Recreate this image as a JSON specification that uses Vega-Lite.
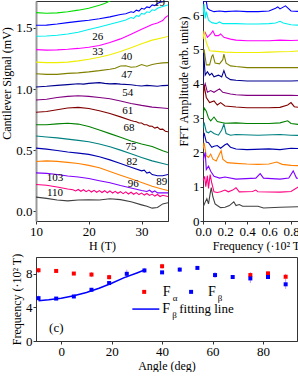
{
 "$schema": "https://vega.github.io/schema/vega-lite/v6.json",
 "padding": {"left": 0, "top": -4, "right": 0, "bottom": 0},
 "background": "white",
 "config": {
  "font": "Liberation Serif",
  "view": {"stroke": "#333", "strokeWidth": 1},
  "axis": {"labelFont": "Liberation Serif", "titleFont": "Liberation Serif", "labelFontSize": 13, "titleFontSize": 12, "titleFontWeight": "normal", "labelColor": "#000", "titleColor": "#000", "domainColor": "#333", "tickColor": "#333", "grid": false, "tickSize": 3, "labelPadding": 1, "titlePadding": 2, "labelOverlap": false, "labelFlush": false}
 },
 "datasets": {
  "a": [
   {"s":"5","h":10,"v":1.625},{"s":"5","h":12,"v":1.62},{"s":"5","h":14,"v":1.623},{"s":"5","h":16,"v":1.632},{"s":"5","h":18,"v":1.645},{"s":"5","h":20,"v":1.66},{"s":"5","h":22,"v":1.685},{"s":"5","h":23,"v":1.7},{"s":"5","h":24,"v":1.72},{"s":"5","h":25,"v":1.74},
   {"s":"12","h":10,"v":1.522},{"s":"12","h":12,"v":1.523},{"s":"12","h":14,"v":1.532},{"s":"12","h":16,"v":1.543},{"s":"12","h":18,"v":1.553},{"s":"12","h":20,"v":1.563},{"s":"12","h":22,"v":1.575},{"s":"12","h":24,"v":1.59},{"s":"12","h":26,"v":1.61},{"s":"12","h":27,"v":1.615},{"s":"12","h":28,"v":1.632},{"s":"12","h":28.5,"v":1.626},{"s":"12","h":29,"v":1.645},{"s":"12","h":29.5,"v":1.638},{"s":"12","h":30,"v":1.66},{"s":"12","h":30.5,"v":1.653},{"s":"12","h":31,"v":1.672},{"s":"12","h":31.5,"v":1.666},{"s":"12","h":32,"v":1.688},{"s":"12","h":32.5,"v":1.682},{"s":"12","h":33,"v":1.7},{"s":"12","h":34,"v":1.72},{"s":"12","h":35,"v":1.74},
   {"s":"19","h":10,"v":1.432},{"s":"19","h":12,"v":1.434},{"s":"19","h":14,"v":1.44},{"s":"19","h":16,"v":1.45},{"s":"19","h":18,"v":1.465},{"s":"19","h":20,"v":1.487},{"s":"19","h":22,"v":1.508},{"s":"19","h":24,"v":1.53},{"s":"19","h":26,"v":1.553},{"s":"19","h":27,"v":1.565},{"s":"19","h":28,"v":1.585},{"s":"19","h":28.5,"v":1.578},{"s":"19","h":29,"v":1.6},{"s":"19","h":29.5,"v":1.595},{"s":"19","h":30,"v":1.618},{"s":"19","h":30.5,"v":1.612},{"s":"19","h":31,"v":1.632},{"s":"19","h":31.5,"v":1.626},{"s":"19","h":32,"v":1.648},{"s":"19","h":32.5,"v":1.643},{"s":"19","h":33,"v":1.66},{"s":"19","h":34,"v":1.675},{"s":"19","h":35,"v":1.688},
   {"s":"26","h":10,"v":1.322},{"s":"26","h":12,"v":1.318},{"s":"26","h":14,"v":1.32},{"s":"26","h":16,"v":1.325},{"s":"26","h":18,"v":1.332},{"s":"26","h":20,"v":1.342},{"s":"26","h":22,"v":1.356},{"s":"26","h":24,"v":1.38},{"s":"26","h":26,"v":1.41},{"s":"26","h":28,"v":1.447},{"s":"26","h":30,"v":1.488},{"s":"26","h":32,"v":1.528},{"s":"26","h":33,"v":1.54},{"s":"26","h":34,"v":1.56},{"s":"26","h":34.5,"v":1.585},{"s":"26","h":35,"v":1.6},
   {"s":"33","h":10,"v":1.22},{"s":"33","h":12,"v":1.216},{"s":"33","h":14,"v":1.216},{"s":"33","h":16,"v":1.22},{"s":"33","h":18,"v":1.23},{"s":"33","h":20,"v":1.243},{"s":"33","h":22,"v":1.26},{"s":"33","h":24,"v":1.28},{"s":"33","h":26,"v":1.307},{"s":"33","h":28,"v":1.338},{"s":"33","h":30,"v":1.37},{"s":"33","h":32,"v":1.4},{"s":"33","h":34,"v":1.42},{"s":"33","h":35,"v":1.43},
   {"s":"40","h":10,"v":1.125},{"s":"40","h":12,"v":1.12},{"s":"40","h":14,"v":1.12},{"s":"40","h":16,"v":1.128},{"s":"40","h":18,"v":1.132},{"s":"40","h":20,"v":1.14},{"s":"40","h":22,"v":1.15},{"s":"40","h":24,"v":1.162},{"s":"40","h":25,"v":1.17},{"s":"40","h":26,"v":1.188},{"s":"40","h":27,"v":1.19},{"s":"40","h":28,"v":1.178},{"s":"40","h":29,"v":1.182},{"s":"40","h":30,"v":1.2},{"s":"40","h":31,"v":1.186},{"s":"40","h":32,"v":1.2},{"s":"40","h":33,"v":1.208},{"s":"40","h":34,"v":1.214},{"s":"40","h":35,"v":1.216},
   {"s":"47","h":10,"v":1.016},{"s":"47","h":12,"v":1.022},{"s":"47","h":14,"v":1.03},{"s":"47","h":16,"v":1.036},{"s":"47","h":18,"v":1.043},{"s":"47","h":19,"v":1.04},{"s":"47","h":20,"v":1.046},{"s":"47","h":22,"v":1.052},{"s":"47","h":23,"v":1.046},{"s":"47","h":24,"v":1.042},{"s":"47","h":25,"v":1.044},{"s":"47","h":26,"v":1.04},{"s":"47","h":28,"v":1.035},{"s":"47","h":29,"v":1.028},{"s":"47","h":30,"v":1.025},{"s":"47","h":31,"v":1.03},{"s":"47","h":33,"v":1.022},{"s":"47","h":34,"v":1.028},{"s":"47","h":35,"v":1.03},
   {"s":"54","h":10,"v":0.91},{"s":"54","h":12,"v":0.916},{"s":"54","h":14,"v":0.93},{"s":"54","h":16,"v":0.94},{"s":"54","h":18,"v":0.945},{"s":"54","h":20,"v":0.94},{"s":"54","h":22,"v":0.93},{"s":"54","h":24,"v":0.92},{"s":"54","h":26,"v":0.902},{"s":"54","h":28,"v":0.882},{"s":"54","h":30,"v":0.866},{"s":"54","h":32,"v":0.852},{"s":"54","h":34,"v":0.845},{"s":"54","h":35,"v":0.84},
   {"s":"61","h":10,"v":0.81},{"s":"61","h":12,"v":0.816},{"s":"61","h":14,"v":0.83},{"s":"61","h":16,"v":0.845},{"s":"61","h":18,"v":0.85},{"s":"61","h":20,"v":0.84},{"s":"61","h":22,"v":0.822},{"s":"61","h":24,"v":0.8},{"s":"61","h":26,"v":0.772},{"s":"61","h":28,"v":0.742},{"s":"61","h":28.5,"v":0.736},{"s":"61","h":29,"v":0.732},{"s":"61","h":29.5,"v":0.722},{"s":"61","h":30,"v":0.722},{"s":"61","h":30.5,"v":0.708},{"s":"61","h":31,"v":0.708},{"s":"61","h":31.5,"v":0.696},{"s":"61","h":32,"v":0.695},{"s":"61","h":32.5,"v":0.68},{"s":"61","h":33,"v":0.688},{"s":"61","h":33.5,"v":0.67},{"s":"61","h":34,"v":0.672},{"s":"61","h":34.5,"v":0.655},{"s":"61","h":35,"v":0.65},
   {"s":"68","h":10,"v":0.707},{"s":"68","h":12,"v":0.708},{"s":"68","h":14,"v":0.715},{"s":"68","h":16,"v":0.72},{"s":"68","h":18,"v":0.713},{"s":"68","h":20,"v":0.693},{"s":"68","h":22,"v":0.665},{"s":"68","h":24,"v":0.635},{"s":"68","h":26,"v":0.605},{"s":"68","h":28,"v":0.575},{"s":"68","h":30,"v":0.55},{"s":"68","h":32,"v":0.53},{"s":"68","h":34,"v":0.495},{"s":"68","h":35,"v":0.48},
   {"s":"75","h":10,"v":0.615},{"s":"75","h":12,"v":0.607},{"s":"75","h":14,"v":0.6},{"s":"75","h":16,"v":0.59},{"s":"75","h":18,"v":0.58},{"s":"75","h":20,"v":0.568},{"s":"75","h":22,"v":0.55},{"s":"75","h":24,"v":0.528},{"s":"75","h":26,"v":0.5},{"s":"75","h":28,"v":0.47},{"s":"75","h":30,"v":0.44},{"s":"75","h":32,"v":0.412},{"s":"75","h":34,"v":0.39},{"s":"75","h":35,"v":0.38},
   {"s":"82","h":10,"v":0.516},{"s":"82","h":12,"v":0.508},{"s":"82","h":14,"v":0.497},{"s":"82","h":16,"v":0.485},{"s":"82","h":18,"v":0.475},{"s":"82","h":20,"v":0.465},{"s":"82","h":22,"v":0.445},{"s":"82","h":24,"v":0.42},{"s":"82","h":26,"v":0.39},{"s":"82","h":28,"v":0.36},{"s":"82","h":30,"v":0.33},{"s":"82","h":30.5,"v":0.336},{"s":"82","h":31,"v":0.312},{"s":"82","h":31.5,"v":0.32},{"s":"82","h":32,"v":0.3},{"s":"82","h":33,"v":0.29},{"s":"82","h":34,"v":0.29},{"s":"82","h":35,"v":0.3},
   {"s":"89","h":10,"v":0.407},{"s":"89","h":12,"v":0.412},{"s":"89","h":14,"v":0.408},{"s":"89","h":16,"v":0.4},{"s":"89","h":18,"v":0.39},{"s":"89","h":20,"v":0.375},{"s":"89","h":22,"v":0.355},{"s":"89","h":24,"v":0.325},{"s":"89","h":26,"v":0.295},{"s":"89","h":28,"v":0.265},{"s":"89","h":30,"v":0.235},{"s":"89","h":32,"v":0.205},{"s":"89","h":34,"v":0.18},{"s":"89","h":35,"v":0.17},
   {"s":"96","h":10,"v":0.314},{"s":"96","h":12,"v":0.31},{"s":"96","h":14,"v":0.3},{"s":"96","h":16,"v":0.288},{"s":"96","h":18,"v":0.28},{"s":"96","h":20,"v":0.268},{"s":"96","h":22,"v":0.25},{"s":"96","h":24,"v":0.233},{"s":"96","h":26,"v":0.21},{"s":"96","h":28,"v":0.19},{"s":"96","h":30,"v":0.17},{"s":"96","h":31,"v":0.162},{"s":"96","h":31.5,"v":0.172},{"s":"96","h":32,"v":0.155},{"s":"96","h":32.5,"v":0.166},{"s":"96","h":33,"v":0.15},{"s":"96","h":34,"v":0.15},{"s":"96","h":35,"v":0.15},
   {"s":"103","h":10,"v":0.219},{"s":"103","h":12,"v":0.212},{"s":"103","h":14,"v":0.198},{"s":"103","h":16,"v":0.182},{"s":"103","h":17,"v":0.176},{"s":"103","h":17.5,"v":0.166},{"s":"103","h":18,"v":0.178},{"s":"103","h":18.5,"v":0.163},{"s":"103","h":19,"v":0.176},{"s":"103","h":19.5,"v":0.16},{"s":"103","h":20,"v":0.173},{"s":"103","h":20.5,"v":0.157},{"s":"103","h":21,"v":0.171},{"s":"103","h":21.5,"v":0.155},{"s":"103","h":22,"v":0.169},{"s":"103","h":22.5,"v":0.153},{"s":"103","h":23,"v":0.168},{"s":"103","h":23.5,"v":0.151},{"s":"103","h":24,"v":0.166},{"s":"103","h":24.5,"v":0.149},{"s":"103","h":25,"v":0.163},{"s":"103","h":25.5,"v":0.147},{"s":"103","h":26,"v":0.16},{"s":"103","h":26.5,"v":0.144},{"s":"103","h":27,"v":0.158},{"s":"103","h":27.5,"v":0.141},{"s":"103","h":28,"v":0.155},{"s":"103","h":28.5,"v":0.139},{"s":"103","h":29,"v":0.152},{"s":"103","h":29.5,"v":0.136},{"s":"103","h":30,"v":0.148},{"s":"103","h":30.5,"v":0.132},{"s":"103","h":31,"v":0.145},{"s":"103","h":31.5,"v":0.129},{"s":"103","h":32,"v":0.14},{"s":"103","h":32.5,"v":0.124},{"s":"103","h":33,"v":0.137},{"s":"103","h":33.5,"v":0.12},{"s":"103","h":34,"v":0.13},{"s":"103","h":35,"v":0.12},
   {"s":"110","h":10,"v":0.115},{"s":"110","h":12,"v":0.105},{"s":"110","h":14,"v":0.092},{"s":"110","h":16,"v":0.085},{"s":"110","h":18,"v":0.092},{"s":"110","h":20,"v":0.093},{"s":"110","h":22,"v":0.092},{"s":"110","h":24,"v":0.102},{"s":"110","h":26,"v":0.095},{"s":"110","h":28,"v":0.078},{"s":"110","h":30,"v":0.052},{"s":"110","h":31,"v":0.04},{"s":"110","h":32,"v":0.025},{"s":"110","h":33,"v":0.03},{"s":"110","h":34,"v":0.06},{"s":"110","h":35,"v":0.07}
  ],
  "alab": [
   {"t":"19","h":33.4,"v":1.7},{"t":"26","h":21.7,"v":1.426},{"t":"33","h":21.7,"v":1.303},{"t":"40","h":27.2,"v":1.262},{"t":"47","h":27.2,"v":1.115},{"t":"54","h":27.4,"v":0.967},{"t":"61","h":27.4,"v":0.82},{"t":"68","h":27.6,"v":0.68},{"t":"75","h":28,"v":0.525},{"t":"82","h":28.2,"v":0.4},{"t":"89","h":33.8,"v":0.238},{"t":"96","h":28.4,"v":0.221},{"t":"103","h":13.6,"v":0.27},{"t":"110","h":13.6,"v":0.148}
  ],
  "b": [
   {"s":"12","f":0,"a":6.3},{"s":"12","f":0.02,"a":6.6},{"s":"12","f":0.04,"a":6.2},{"s":"12","f":0.06,"a":6.15},{"s":"12","f":0.1,"a":6.1},{"s":"12","f":0.15,"a":6.12},{"s":"12","f":0.2,"a":6.1},{"s":"12","f":0.3,"a":6.12},{"s":"12","f":0.4,"a":6.1},{"s":"12","f":0.5,"a":6.1},{"s":"12","f":0.6,"a":6.12},{"s":"12","f":0.66,"a":6.2},{"s":"12","f":0.68,"a":6.24},{"s":"12","f":0.7,"a":6.18},{"s":"12","f":0.75,"a":6.27},{"s":"12","f":0.78,"a":6.18},{"s":"12","f":0.8,"a":6.12},{"s":"12","f":0.9,"a":6.1},{"s":"12","f":1.0,"a":6.1},
   {"s":"19","f":0,"a":6.0},{"s":"19","f":0.01,"a":6.32},{"s":"19","f":0.02,"a":5.9},{"s":"19","f":0.03,"a":6.1},{"s":"19","f":0.05,"a":5.85},{"s":"19","f":0.08,"a":5.78},{"s":"19","f":0.12,"a":5.75},{"s":"19","f":0.15,"a":5.8},{"s":"19","f":0.18,"a":5.75},{"s":"19","f":0.3,"a":5.75},{"s":"19","f":0.4,"a":5.74},{"s":"19","f":0.5,"a":5.74},{"s":"19","f":0.6,"a":5.75},{"s":"19","f":0.66,"a":5.77},{"s":"19","f":0.7,"a":5.82},{"s":"19","f":0.73,"a":5.77},{"s":"19","f":0.8,"a":5.72},{"s":"19","f":0.9,"a":5.7},{"s":"19","f":1.0,"a":5.68},
   {"s":"26","f":0,"a":5.4},{"s":"26","f":0.02,"a":5.49},{"s":"26","f":0.04,"a":5.35},{"s":"26","f":0.07,"a":5.45},{"s":"26","f":0.09,"a":5.54},{"s":"26","f":0.11,"a":5.4},{"s":"26","f":0.14,"a":5.4},{"s":"26","f":0.16,"a":5.45},{"s":"26","f":0.19,"a":5.35},{"s":"26","f":0.25,"a":5.3},{"s":"26","f":0.3,"a":5.27},{"s":"26","f":0.4,"a":5.25},{"s":"26","f":0.5,"a":5.25},{"s":"26","f":0.6,"a":5.25},{"s":"26","f":0.7,"a":5.27},{"s":"26","f":0.8,"a":5.26},{"s":"26","f":0.9,"a":5.27},{"s":"26","f":1.0,"a":5.27},
   {"s":"33","f":0,"a":5.3},{"s":"33","f":0.01,"a":5.54},{"s":"33","f":0.03,"a":5.2},{"s":"33","f":0.06,"a":4.96},{"s":"33","f":0.1,"a":4.95},{"s":"33","f":0.2,"a":4.92},{"s":"33","f":0.3,"a":4.91},{"s":"33","f":0.4,"a":4.91},{"s":"33","f":0.5,"a":4.91},{"s":"33","f":0.6,"a":4.92},{"s":"33","f":0.7,"a":4.93},{"s":"33","f":0.8,"a":4.94},{"s":"33","f":0.9,"a":4.96},{"s":"33","f":1.0,"a":4.96},
   {"s":"40","f":0,"a":4.5},{"s":"40","f":0.01,"a":5.0},{"s":"40","f":0.03,"a":4.55},{"s":"40","f":0.06,"a":4.55},{"s":"40","f":0.08,"a":4.8},{"s":"40","f":0.09,"a":4.84},{"s":"40","f":0.11,"a":4.6},{"s":"40","f":0.15,"a":4.58},{"s":"40","f":0.18,"a":4.7},{"s":"40","f":0.19,"a":4.86},{"s":"40","f":0.21,"a":4.6},{"s":"40","f":0.25,"a":4.52},{"s":"40","f":0.3,"a":4.5},{"s":"40","f":0.4,"a":4.47},{"s":"40","f":0.6,"a":4.47},{"s":"40","f":0.8,"a":4.47},{"s":"40","f":1.0,"a":4.47},
   {"s":"47","f":0,"a":4.0},{"s":"47","f":0.005,"a":4.9},{"s":"47","f":0.02,"a":4.25},{"s":"47","f":0.04,"a":4.35},{"s":"47","f":0.06,"a":4.25},{"s":"47","f":0.08,"a":4.3},{"s":"47","f":0.1,"a":4.2},{"s":"47","f":0.14,"a":4.25},{"s":"47","f":0.17,"a":4.2},{"s":"47","f":0.19,"a":4.38},{"s":"47","f":0.21,"a":4.2},{"s":"47","f":0.25,"a":4.12},{"s":"47","f":0.3,"a":4.1},{"s":"47","f":0.4,"a":4.08},{"s":"47","f":0.6,"a":4.08},{"s":"47","f":0.8,"a":4.08},{"s":"47","f":1.0,"a":4.1},
   {"s":"54","f":0,"a":3.8},{"s":"54","f":0.02,"a":4.0},{"s":"54","f":0.04,"a":3.75},{"s":"54","f":0.07,"a":3.8},{"s":"54","f":0.1,"a":3.75},{"s":"54","f":0.15,"a":3.85},{"s":"54","f":0.18,"a":3.75},{"s":"54","f":0.25,"a":3.7},{"s":"54","f":0.3,"a":3.68},{"s":"54","f":0.4,"a":3.66},{"s":"54","f":0.6,"a":3.66},{"s":"54","f":0.8,"a":3.66},{"s":"54","f":1.0,"a":3.65},
   {"s":"61","f":0,"a":3.5},{"s":"61","f":0.01,"a":3.95},{"s":"61","f":0.03,"a":3.6},{"s":"61","f":0.06,"a":3.45},{"s":"61","f":0.1,"a":3.5},{"s":"61","f":0.13,"a":3.38},{"s":"61","f":0.16,"a":3.45},{"s":"61","f":0.2,"a":3.35},{"s":"61","f":0.3,"a":3.32},{"s":"61","f":0.4,"a":3.3},{"s":"61","f":0.6,"a":3.3},{"s":"61","f":0.7,"a":3.31},{"s":"61","f":0.77,"a":3.38},{"s":"61","f":0.8,"a":3.45},{"s":"61","f":0.83,"a":3.33},{"s":"61","f":0.9,"a":3.3},{"s":"61","f":1.0,"a":3.3},
   {"s":"68","f":0,"a":3.0},{"s":"68","f":0.01,"a":3.3},{"s":"68","f":0.03,"a":3.2},{"s":"68","f":0.05,"a":3.0},{"s":"68","f":0.07,"a":2.92},{"s":"68","f":0.1,"a":3.03},{"s":"68","f":0.13,"a":2.9},{"s":"68","f":0.2,"a":2.85},{"s":"68","f":0.3,"a":2.86},{"s":"68","f":0.4,"a":2.84},{"s":"68","f":0.6,"a":2.84},{"s":"68","f":0.7,"a":2.86},{"s":"68","f":0.77,"a":2.92},{"s":"68","f":0.8,"a":2.84},{"s":"68","f":0.9,"a":2.8},{"s":"68","f":1.0,"a":2.8},
   {"s":"75","f":0,"a":2.7},{"s":"75","f":0.01,"a":2.87},{"s":"75","f":0.03,"a":2.6},{"s":"75","f":0.05,"a":2.57},{"s":"75","f":0.07,"a":2.62},{"s":"75","f":0.1,"a":2.55},{"s":"75","f":0.14,"a":2.5},{"s":"75","f":0.17,"a":2.65},{"s":"75","f":0.19,"a":2.82},{"s":"75","f":0.21,"a":2.55},{"s":"75","f":0.25,"a":2.5},{"s":"75","f":0.3,"a":2.52},{"s":"75","f":0.5,"a":2.5},{"s":"75","f":0.7,"a":2.52},{"s":"75","f":0.8,"a":2.5},{"s":"75","f":1.0,"a":2.48},
   {"s":"82","f":0,"a":2.4},{"s":"82","f":0.01,"a":2.57},{"s":"82","f":0.03,"a":2.3},{"s":"82","f":0.05,"a":2.28},{"s":"82","f":0.08,"a":2.15},{"s":"82","f":0.1,"a":2.18},{"s":"82","f":0.13,"a":2.2},{"s":"82","f":0.16,"a":2.12},{"s":"82","f":0.2,"a":2.22},{"s":"82","f":0.22,"a":2.25},{"s":"82","f":0.25,"a":2.15},{"s":"82","f":0.3,"a":2.1},{"s":"82","f":0.4,"a":2.08},{"s":"82","f":0.6,"a":2.1},{"s":"82","f":0.7,"a":2.08},{"s":"82","f":0.8,"a":2.12},{"s":"82","f":1.0,"a":2.1},
   {"s":"89","f":0,"a":2.1},{"s":"89","f":0.01,"a":2.28},{"s":"89","f":0.03,"a":1.9},{"s":"89","f":0.05,"a":1.85},{"s":"89","f":0.07,"a":1.95},{"s":"89","f":0.09,"a":1.8},{"s":"89","f":0.12,"a":1.75},{"s":"89","f":0.15,"a":1.95},{"s":"89","f":0.165,"a":2.05},{"s":"89","f":0.18,"a":1.8},{"s":"89","f":0.22,"a":1.7},{"s":"89","f":0.3,"a":1.68},{"s":"89","f":0.4,"a":1.66},{"s":"89","f":0.5,"a":1.65},{"s":"89","f":0.6,"a":1.66},{"s":"89","f":0.67,"a":1.72},{"s":"89","f":0.72,"a":1.65},{"s":"89","f":0.8,"a":1.62},{"s":"89","f":1.0,"a":1.6},
   {"s":"96","f":0,"a":1.75},{"s":"96","f":0.02,"a":2.0},{"s":"96","f":0.03,"a":1.5},{"s":"96","f":0.05,"a":1.6},{"s":"96","f":0.07,"a":1.45},{"s":"96","f":0.1,"a":1.3},{"s":"96","f":0.15,"a":1.25},{"s":"96","f":0.2,"a":1.28},{"s":"96","f":0.3,"a":1.22},{"s":"96","f":0.48,"a":1.25},{"s":"96","f":0.52,"a":1.38},{"s":"96","f":0.55,"a":1.25},{"s":"96","f":0.7,"a":1.22},{"s":"96","f":0.78,"a":1.25},{"s":"96","f":0.82,"a":1.46},{"s":"96","f":0.85,"a":1.25},{"s":"96","f":1.0,"a":1.22},
   {"s":"103","f":0,"a":1.17},{"s":"103","f":0.015,"a":1.3},{"s":"103","f":0.025,"a":1.0},{"s":"103","f":0.04,"a":1.32},{"s":"103","f":0.05,"a":0.95},{"s":"103","f":0.065,"a":1.35},{"s":"103","f":0.08,"a":1.1},{"s":"103","f":0.1,"a":0.85},{"s":"103","f":0.13,"a":0.83},{"s":"103","f":0.16,"a":0.85},{"s":"103","f":0.2,"a":0.9},{"s":"103","f":0.23,"a":0.85},{"s":"103","f":0.27,"a":0.9},{"s":"103","f":0.3,"a":0.97},{"s":"103","f":0.33,"a":0.85},{"s":"103","f":0.45,"a":0.86},{"s":"103","f":0.48,"a":0.9},{"s":"103","f":0.5,"a":0.85},{"s":"103","f":0.7,"a":0.84},{"s":"103","f":0.8,"a":0.86},{"s":"103","f":0.87,"a":1.0},{"s":"103","f":0.9,"a":0.95},{"s":"103","f":1.0,"a":0.9},
   {"s":"110","f":0,"a":0.4},{"s":"110","f":0.02,"a":0.55},{"s":"110","f":0.035,"a":0.65},{"s":"110","f":0.05,"a":0.5},{"s":"110","f":0.065,"a":0.8},{"s":"110","f":0.075,"a":0.97},{"s":"110","f":0.09,"a":0.7},{"s":"110","f":0.11,"a":0.5},{"s":"110","f":0.13,"a":0.45},{"s":"110","f":0.16,"a":0.39},{"s":"110","f":0.2,"a":0.4},{"s":"110","f":0.24,"a":0.45},{"s":"110","f":0.28,"a":0.56},{"s":"110","f":0.3,"a":0.45},{"s":"110","f":0.33,"a":0.48},{"s":"110","f":0.36,"a":0.43},{"s":"110","f":0.5,"a":0.43},{"s":"110","f":0.55,"a":0.38},{"s":"110","f":0.7,"a":0.4},{"s":"110","f":0.9,"a":0.42},{"s":"110","f":1.0,"a":0.42}
  ],
  "c": [
   {"g":"Fα","ang":-9,"fr":8.42,"lo":8.1,"hi":8.7},{"g":"Fα","ang":-2,"fr":8.34},{"g":"Fα","ang":5,"fr":8.03},{"g":"Fα","ang":12,"fr":7.91,"lo":7.6,"hi":8.2},{"g":"Fα","ang":19,"fr":7.6,"lo":7.3,"hi":7.9},{"g":"Fα","ang":40,"fr":8.9,"lo":8.6,"hi":9.2},{"g":"Fα","ang":75,"fr":7.85,"lo":7.5,"hi":8.2},{"g":"Fα","ang":82,"fr":8.05,"lo":7.8,"hi":8.3},{"g":"Fα","ang":89,"fr":7.65,"lo":7.2,"hi":8.0},
   {"g":"Fβ","ang":-9,"fr":5.1,"lo":4.8,"hi":5.4},{"g":"Fβ","ang":-2,"fr":5.05},{"g":"Fβ","ang":5,"fr":5.3},{"g":"Fβ","ang":12,"fr":6.1},{"g":"Fβ","ang":19,"fr":6.9},{"g":"Fβ","ang":26,"fr":8.0,"lo":7.5,"hi":8.5},{"g":"Fβ","ang":33,"fr":8.4,"lo":8.1,"hi":8.7},{"g":"Fβ","ang":40,"fr":8.17},{"g":"Fβ","ang":47,"fr":8.5,"lo":8.2,"hi":8.8},{"g":"Fβ","ang":54,"fr":8.7},{"g":"Fβ","ang":61,"fr":7.85,"lo":7.5,"hi":8.2},{"g":"Fβ","ang":68,"fr":7.62},{"g":"Fβ","ang":75,"fr":7.45,"lo":6.9,"hi":8.0},{"g":"Fβ","ang":82,"fr":7.62},{"g":"Fβ","ang":89,"fr":6.75,"lo":6.2,"hi":7.3},
   {"g":"Fα","ang":32.9,"fr":5.85},{"g":"Fβ","ang":51.5,"fr":5.85}
  ],
  "fit": [
   {"ang":-9,"fr":4.8},{"ang":-5,"fr":4.9},{"ang":0,"fr":5.08},{"ang":5,"fr":5.38},{"ang":10,"fr":5.78},{"ang":15,"fr":6.28},{"ang":20,"fr":6.88},{"ang":25,"fr":7.55},{"ang":30,"fr":8.1},{"ang":33,"fr":8.45}
  ],
  "legline": [{"ang":28.2,"fr":3.8},{"ang":38.9,"fr":3.8}],
  "legF": [{"t":"F","ang":40.3,"fr":5.85},{"t":"F","ang":58.2,"fr":5.85},{"t":"F","ang":40.1,"fr":3.8}],
  "legSub": [{"t":"α","ang":44.2,"fr":5.1},{"t":"β","ang":62.1,"fr":5.1},{"t":"β","ang":44.0,"fr":3.05}],
  "legTxt": [{"t":"fitting line","ang":46.8,"fr":3.8},{"t":"(c)","ang":-4.8,"fr":1.55}]
 },
 "spacing": 0,
 "vconcat": [
  {
   "hconcat": [
    {
     "width": 132, "height": 220,
     "layer": [
      {
       "data": {"name": "a"},
       "mark": {"type": "line", "strokeWidth": 1.1, "clip": true},
       "encoding": {
        "x": {"field": "h", "type": "quantitative", "scale": {"domain": [10, 35], "nice": false}, "axis": {"title": "H (T)", "values": [10, 15, 20, 25, 30, 35]}},
        "y": {"field": "v", "type": "quantitative", "scale": {"domain": [-0.08, 1.72], "nice": false}, "axis": {"title": "Cantilever Signal (mV)", "titleY": 82, "values": [0, 0.5, 1, 1.5], "format": ".1f", "domainColor": "#999", "domainWidth": 2}},
        "color": {"field": "s", "type": "nominal", "legend": null, "scale": {"domain": ["5","12","19","26","33","40","47","54","61","68","75","82","89","96","103","110"], "range": ["#00dd00","#0000ff","#00eeee","#ff00ff","#eeee00","#808000","#000090","#800080","#800000","#008000","#008080","#0000b0","#ff8000","#8000ff","#ff0080","#404040"]}},
        "order": {"field": "h", "type": "quantitative"}
       }
      },
      {
       "data": {"name": "alab"},
       "mark": {"type": "text", "fontSize": 11, "font": "Liberation Serif", "color": "#000"},
       "encoding": {"x": {"field": "h", "type": "quantitative"}, "y": {"field": "v", "type": "quantitative"}, "text": {"field": "t"}}
      }
     ]
    },
    {
     "width": 110, "height": 220,
     "data": {"name": "b"},
     "mark": {"type": "line", "strokeWidth": 1.1, "clip": true},
     "encoding": {
      "x": {"field": "f", "type": "quantitative", "scale": {"domain": [0, 1], "nice": false}, "axis": {"title": "Frequency (·10² T)", "values": [0, 0.2, 0.4, 0.6, 0.8, 1.0], "format": ".1f"}},
      "y": {"field": "a", "type": "quantitative", "scale": {"domain": [0, 6.41], "nice": false}, "axis": {"title": "FFT Amplitude (arb. units)", "titleY": 80, "values": [0, 1, 2, 3, 4, 5, 6], "format": "d"}},
      "color": {"field": "s", "type": "nominal", "legend": null, "scale": {"domain": ["5","12","19","26","33","40","47","54","61","68","75","82","89","96","103","110"], "range": ["#00dd00","#0000ff","#00eeee","#ff00ff","#eeee00","#808000","#000090","#800080","#800000","#008000","#008080","#0000b0","#ff8000","#8000ff","#ff0080","#404040"]}},
      "order": {"field": "f", "type": "quantitative"}
     }
    }
   ],
   "spacing": 8
  },
  {
   "width": 261, "height": 84,
   "layer": [
    {
     "data": {"name": "c"},
     "transform": [{"filter": "isValid(datum.lo)"}],
     "mark": {"type": "rule", "color": "#c9a0e6", "strokeWidth": 1},
     "encoding": {
      "x": {"field": "ang", "type": "quantitative", "scale": {"domain": [-10, 93.5], "nice": false}, "axis": {"title": "Angle (deg)", "values": [0, 20, 40, 60, 80]}},
      "y": {"field": "lo", "type": "quantitative", "scale": {"domain": [0, 10], "nice": false}, "axis": {"title": "Frequency (·10² T)", "values": [0, 2, 4, 6, 8, 10]}},
      "y2": {"field": "hi"}
     }
    },
    {
     "data": {"name": "fit"},
     "mark": {"type": "line", "color": "#0000ff", "strokeWidth": 1.5},
     "encoding": {"x": {"field": "ang", "type": "quantitative"}, "y": {"field": "fr", "type": "quantitative"}}
    },
    {
     "data": {"name": "legline"},
     "mark": {"type": "line", "color": "#0000ff", "strokeWidth": 1.5},
     "encoding": {"x": {"field": "ang", "type": "quantitative"}, "y": {"field": "fr", "type": "quantitative"}}
    },
    {
     "data": {"name": "c"},
     "transform": [{"filter": "datum.g === 'Fα'"}],
     "mark": {"type": "square", "size": 16, "opacity": 1, "color": "#ff0000"},
     "encoding": {"x": {"field": "ang", "type": "quantitative"}, "y": {"field": "fr", "type": "quantitative"}}
    },
    {
     "data": {"name": "c"},
     "transform": [{"filter": "datum.g === 'Fβ'"}],
     "mark": {"type": "square", "size": 16, "opacity": 1, "color": "#0000ff"},
     "encoding": {"x": {"field": "ang", "type": "quantitative"}, "y": {"field": "fr", "type": "quantitative"}}
    },
    {
     "data": {"name": "legF"},
     "mark": {"type": "text", "fontSize": 14, "align": "left", "baseline": "middle", "color": "#000"},
     "encoding": {"x": {"field": "ang", "type": "quantitative"}, "y": {"field": "fr", "type": "quantitative"}, "text": {"field": "t"}}
    },
    {
     "data": {"name": "legSub"},
     "mark": {"type": "text", "fontSize": 9, "align": "left", "baseline": "middle", "color": "#000"},
     "encoding": {"x": {"field": "ang", "type": "quantitative"}, "y": {"field": "fr", "type": "quantitative"}, "text": {"field": "t"}}
    },
    {
     "data": {"name": "legTxt"},
     "mark": {"type": "text", "fontSize": 13, "align": "left", "baseline": "middle", "color": "#000"},
     "encoding": {"x": {"field": "ang", "type": "quantitative"}, "y": {"field": "fr", "type": "quantitative"}, "text": {"field": "t"}}
    }
   ]
  }
 ]
}
